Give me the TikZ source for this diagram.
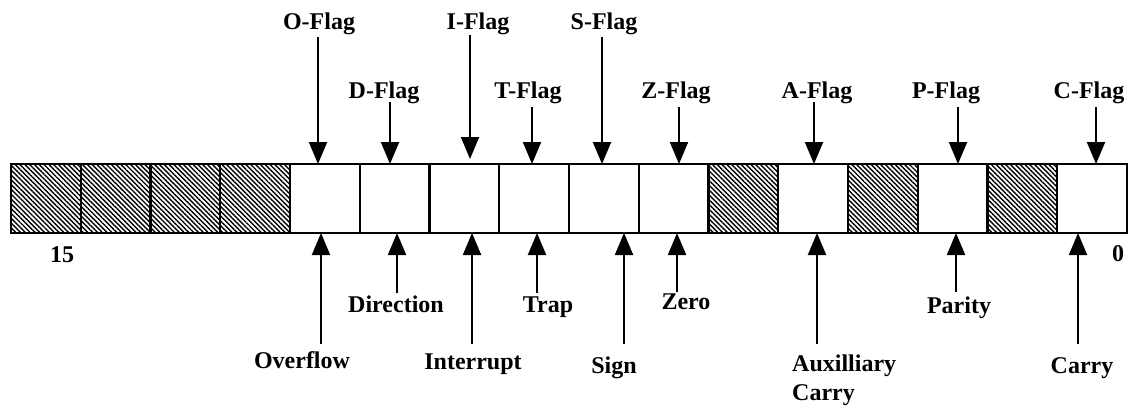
\documentclass[tikz,border=0pt]{standalone}
\usepackage{fontspec}
\setmainfont{Liberation Serif}
\usetikzlibrary{patterns.meta,arrows.meta}
\begin{document}
\begin{tikzpicture}[x=1pt,y=-1pt,
  cell/.style={draw,line width=2.4pt,minimum width=69.75pt,minimum height=69pt,inner sep=0pt,outer sep=0pt,anchor=north west},
  hatch/.style={cell,pattern={Lines[angle=-45,distance=3.4pt,line width=1.4pt]}},
  lbl/.style={font=\fontsize{24}{29}\selectfont\bfseries,inner sep=0pt,anchor=base},
  arr/.style={line width=2pt,-{Triangle[length=22pt,width=18pt]}},
  uarr/.style={line width=2pt,-{Triangle[length=22pt,width=18pt]}}]
\useasboundingbox (0,0) rectangle (1131,409);
% cells, bit 15 on the left
\foreach \b [evaluate=\b as \i using {15-\b}] in {15,14,13,12,5,3,1}
  \node[hatch] (c\b) at ({11+69.75*\i},164) {};
\foreach \b [evaluate=\b as \i using {15-\b}] in {11,10,9,8,7,6,4,2,0}
  \node[cell,fill=white] (c\b) at ({11+69.75*\i},164) {};
% bit numbers
\node[lbl] (n15) at (62,262) {15};
\node[lbl] (n0) at (1118,261) {0};
% top labels
\node[lbl] (of) at (319,30) {O-Flag};
\node[lbl] (if) at (478,30) {I-Flag};
\node[lbl] (sf) at (604,30) {S-Flag};
\node[lbl] (df) at (384,98.5) {D-Flag};
\node[lbl] (tf) at (528,98.5) {T-Flag};
\node[lbl] (zf) at (676,98.5) {Z-Flag};
\node[lbl] (af) at (817,98.5) {A-Flag};
\node[lbl] (pf) at (946,98.5) {P-Flag};
\node[lbl] (cf) at (1089,98.5) {C-Flag};
% top arrow starts
\coordinate (ofs) at (318,37);
\coordinate (ifs) at (470,35);
\coordinate (sfs) at (602,37);
\coordinate (dfs) at (390,102);
\coordinate (tfs) at (532,107);
\coordinate (zfs) at (679,107);
\coordinate (afs) at (814,102);
\coordinate (pfs) at (958,107);
\coordinate (cfs) at (1096,107);
\draw[arr] (ofs) -- (ofs |- c11.north);
\draw[arr] (ifs) -- ([yshift=5pt]ifs |- c9.north);
\draw[arr] (sfs) -- (sfs |- c7.north);
\draw[arr] (dfs) -- (dfs |- c10.north);
\draw[arr] (tfs) -- (tfs |- c8.north);
\draw[arr] (zfs) -- (zfs |- c6.north);
\draw[arr] (afs) -- (afs |- c4.north);
\draw[arr] (pfs) -- (pfs |- c2.north);
\draw[arr] (cfs) -- (cfs |- c0.north);
% bottom labels
\node[lbl] (ov) at (302,368) {Overflow};
\node[lbl] (dir) at (396,312) {Direction};
\node[lbl] (int) at (473,369) {Interrupt};
\node[lbl] (trap) at (548,312) {Trap};
\node[lbl] (sign) at (614,373) {Sign};
\node[lbl] (zero) at (686,309) {Zero};
\node[lbl,align=left,anchor=north west] (aux) at (792,354.5) {Auxilliary\\Carry};
\node[lbl] (par) at (959,313) {Parity};
\node[lbl] (car) at (1082,373) {Carry};
% bottom arrow starts
\coordinate (ovs) at (321,344);
\coordinate (dirs) at (397,293);
\coordinate (ints) at (472,344);
\coordinate (traps) at (537,293);
\coordinate (signs) at (624,344);
\coordinate (zeros) at (677,292);
\coordinate (auxs) at (817,344);
\coordinate (pars) at (956,292);
\coordinate (cars) at (1078,344);
\draw[uarr] (ovs) -- (ovs |- c11.south);
\draw[uarr] (dirs) -- (dirs |- c10.south);
\draw[uarr] (ints) -- (ints |- c9.south);
\draw[uarr] (traps) -- (traps |- c8.south);
\draw[uarr] (signs) -- (signs |- c7.south);
\draw[uarr] (zeros) -- (zeros |- c6.south);
\draw[uarr] (auxs) -- (auxs |- c4.south);
\draw[uarr] (pars) -- (pars |- c2.south);
\draw[uarr] (cars) -- (cars |- c0.south);
\end{tikzpicture}
\end{document}
